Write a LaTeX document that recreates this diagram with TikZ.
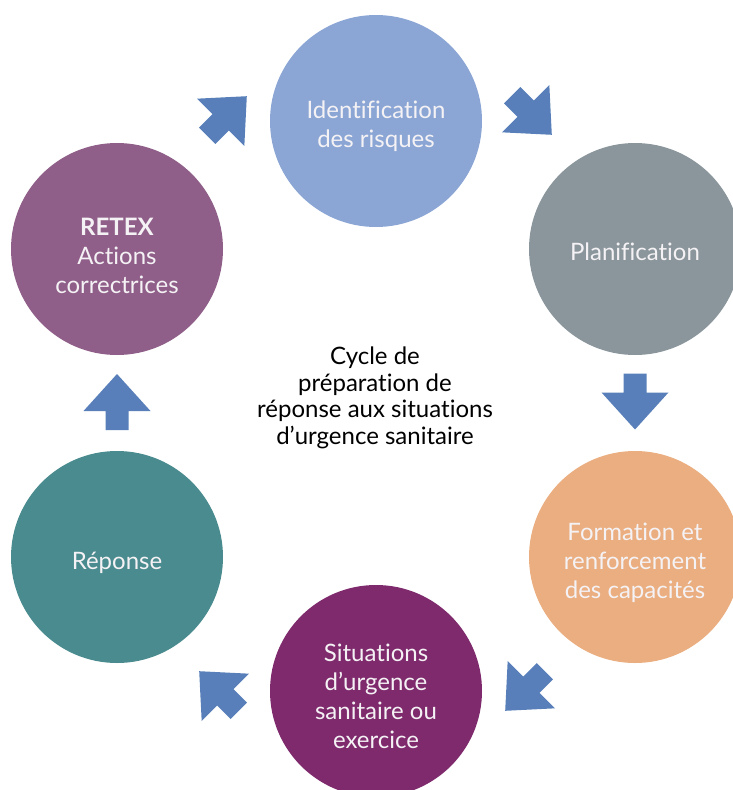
\documentclass[tikz,border=0pt]{standalone}
\usepackage{fontspec}
\setmainfont{Lato}[Ligatures=NoCommon]
\definecolor{cIdent}{RGB}{139,166,212}
\definecolor{cPlan}{RGB}{138,150,155}
\definecolor{cForm}{RGB}{234,174,128}
\definecolor{cSitu}{RGB}{126,42,108}
\definecolor{cRep}{RGB}{73,139,142}
\definecolor{cRetex}{RGB}{143,95,137}
\definecolor{arrowblue}{RGB}{88,127,185}
\definecolor{txtlight}{RGB}{245,242,245}
\tikzset{
  stage/.style={circle, minimum size=212pt, inner sep=0pt},
  stagetext/.style={align=center, inner sep=0pt, text=txtlight,
    font=\fontsize{24}{29}\selectfont},
  blockarrow/.pic={\fill[arrowblue] (-28,-11.5) -- (-9,-11.5) -- (-9,-33.5) -- (28,0) -- (-9,33.5) -- (-9,11.5) -- (-28,11.5) -- cycle;}
}
\begin{document}
\begin{tikzpicture}[x=1pt,y=-1pt]
\useasboundingbox (0,0) rectangle (732,790);
\node[stage, fill=cIdent] (ident) at (376,121) {};
\node[stage, fill=cPlan] (plan) at (635,249) {};
\node[stage, fill=cForm] (form) at (635,557) {};
\node[stage, fill=cSitu] (situ) at (376,691) {};
\node[stage, fill=cRep] (rep) at (117,557) {};
\node[stage, fill=cRetex] (retex) at (117,249) {};
\node[stagetext] (identT) at ([yshift=-5pt]ident.center) {Identification\\des risques};
\node[stagetext] (planT) at ([yshift=-3pt]plan.center) {Planification};
\node[stagetext] (formT) at ([yshift=-6pt]form.center) {Formation et\\renforcement\\des capacités};
\node[stagetext] (situT) at ([yshift=-5pt]situ.center) {Situations\\d’urgence\\sanitaire ou\\exercice};
\node[stagetext] (repT) at ([yshift=-6pt]rep.center) {Réponse};
\node[stagetext] (retexT) at ([yshift=-7pt]retex.center) {\textbf{RETEX}\\Actions\\correctrices};
\node[align=center, text=black, font=\fontsize{24}{26.5}\selectfont] (title) at (375,398)
  {Cycle de\\préparation de\\réponse aux situations\\d’urgence sanitaire};
\coordinate (a1) at (227,116);
\coordinate (a2) at (532,115);
\coordinate (a3) at (635,401.5);
\coordinate (a4) at (525,691);
\coordinate (a5) at (219,691);
\coordinate (a6) at (117,402);
\pic[rotate=45] at (a1) {blockarrow};
\pic[rotate=-45] at (a2) {blockarrow};
\pic[rotate=-90] at (a3) {blockarrow};
\pic[rotate=-135] at (a4) {blockarrow};
\pic[rotate=135] at (a5) {blockarrow};
\pic[rotate=90] at (a6) {blockarrow};
\end{tikzpicture}
\end{document}
